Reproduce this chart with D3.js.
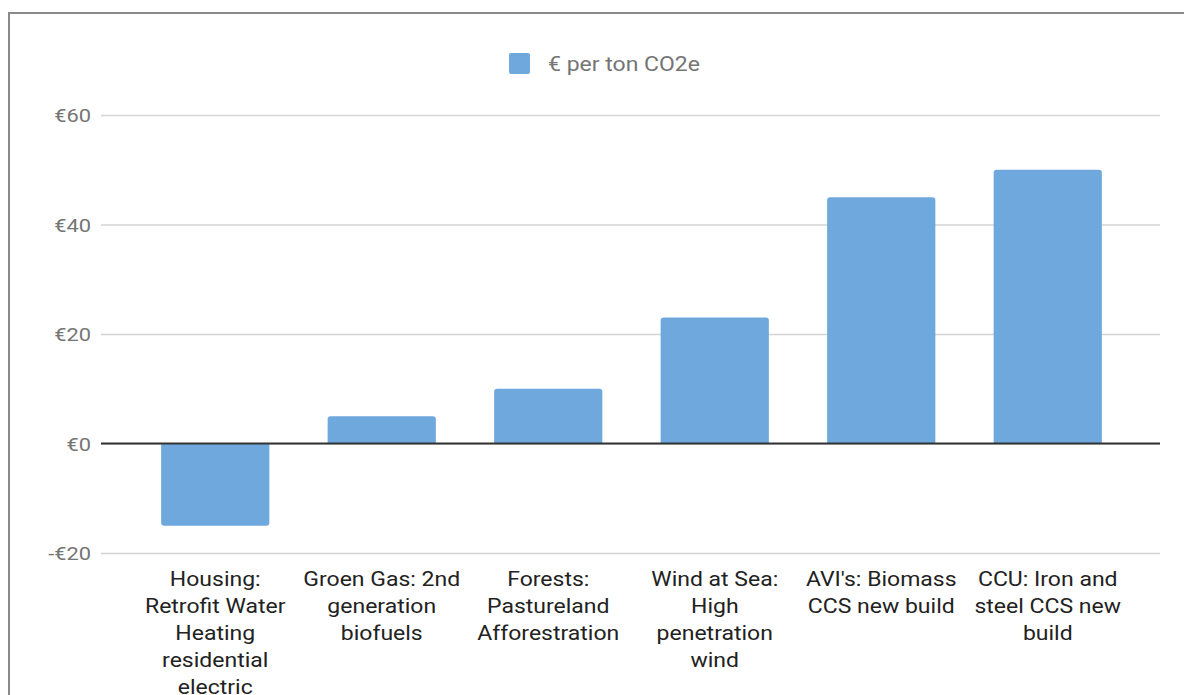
<!DOCTYPE html>
<html>
<head>
<meta charset="utf-8">
<script src="https://cdn.jsdelivr.net/npm/d3@7"></script>
<style>
  html, body { margin: 0; padding: 0; background: #fff; }
  svg { display: block; font-family: Roboto, "Noto Sans", sans-serif; }
</style>
</head>
<body>
<svg id="chart" width="1184" height="695"></svg>
<script>
// Cost of abatement per measure, € per ton CO2e
const categories = [
  ["Housing:", "Retrofit Water", "Heating", "residential", "electric"],
  ["Groen Gas: 2nd", "generation", "biofuels"],
  ["Forests:", "Pastureland", "Afforestration"],
  ["Wind at Sea:", "High", "penetration", "wind"],
  ["AVI's: Biomass", "CCS new build"],
  ["CCU: Iron and", "steel CCS new", "build"]
];
const values = [-15, 5, 10, 23, 45, 50];
const yTicks = [-20, 0, 20, 40, 60];
const seriesName = "€ per ton CO2e";

const svg = d3.select("#chart");
const W = 1184, H = 695;
const barColor = "#6fa8dc";
const SX = 1.15; // horizontal text stretch

// frame
svg.append("path")
  .attr("d", `M9,${H} L9,13 L${W},13`)
  .attr("fill", "none").attr("stroke", "#8a8a8a").attr("stroke-width", 2);

const plot = { left: 101, right: 1160, top: 115, bottom: 553 };

const y = d3.scaleLinear().domain([-20, 60]).range([plot.bottom, plot.top]);
const x = d3.scaleBand().domain(d3.range(values.length))
  .range([132, 1131]).paddingInner(0.35).paddingOuter(0.175);

// gridlines
const yAxis = d3.axisLeft(y).tickValues(yTicks)
  .tickSize(-(plot.right - plot.left))
  .tickFormat(d => (d < 0 ? "-€" : "€") + Math.abs(d));
const gy = svg.append("g").attr("transform", `translate(${plot.left},0)`).call(yAxis);
gy.select(".domain").remove();
gy.selectAll(".tick line").attr("stroke", "#d4d4d4").attr("stroke-width", 1.5);
gy.selectAll(".tick text")
  .attr("x", 0).attr("dy", "0.35em")
  .attr("transform", `translate(-10,0) scale(${SX},1)`)
  .attr("fill", "#757575").style("font-size", "19px")
  .style("font-family", "Roboto, sans-serif");

// bars, rounded at the value end
function barPath(i, v) {
  const x0 = x(i), w = x.bandwidth();
  const y0 = y(0), y1 = y(v), r = 3;
  if (v >= 0) {
    return `M${x0},${y0} L${x0},${y1 + r} Q${x0},${y1} ${x0 + r},${y1} L${x0 + w - r},${y1} Q${x0 + w},${y1} ${x0 + w},${y1 + r} L${x0 + w},${y0} Z`;
  }
  return `M${x0},${y0} L${x0},${y1 - r} Q${x0},${y1} ${x0 + r},${y1} L${x0 + w - r},${y1} Q${x0 + w},${y1} ${x0 + w},${y1 - r} L${x0 + w},${y0} Z`;
}
svg.append("g").selectAll("path").data(values).join("path")
  .attr("d", (v, i) => barPath(i, v))
  .attr("fill", barColor);

// zero baseline
svg.append("line")
  .attr("x1", plot.left).attr("x2", plot.right)
  .attr("y1", y(0)).attr("y2", y(0))
  .attr("stroke", "#333").attr("stroke-width", 2);

// category labels
const lab = svg.append("g");
categories.forEach((lines, i) => {
  const g = lab.append("g")
    .attr("transform", `translate(${x(i) + x.bandwidth() / 2},0) scale(${SX},1)`);
  const t = g.append("text")
    .attr("text-anchor", "middle")
    .attr("fill", "#222")
    .style("font-size", "20px");
  lines.forEach((ln, k) => {
    t.append("tspan").attr("x", 0).attr("y", 586 + k * 27).text(ln);
  });
});

// legend
const lg = svg.append("g");
lg.append("rect").attr("x", 509).attr("y", 53).attr("width", 21).attr("height", 21)
  .attr("rx", 2).attr("fill", barColor);
lg.append("g").attr("transform", `translate(548,71) scale(${SX},1)`)
  .append("text").attr("x", 0).attr("y", 0)
  .attr("fill", "#757575").style("font-size", "20px").text(seriesName);
</script>
</body>
</html>
